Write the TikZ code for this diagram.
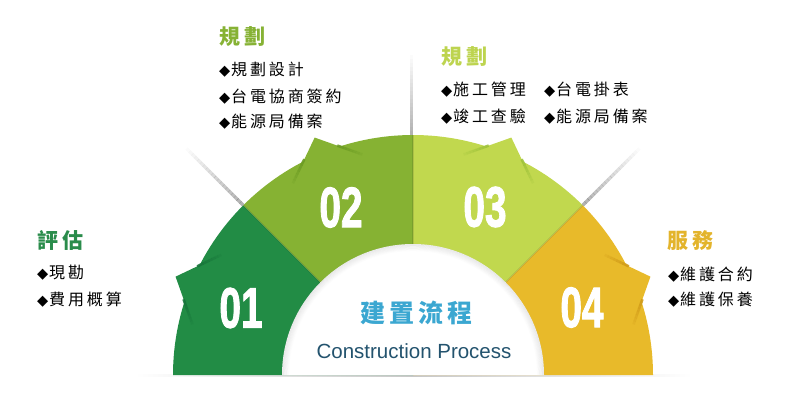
\documentclass[tikz,border=0pt]{standalone}
\usepackage{fontspec}
\setmainfont{Liberation Sans}
\newfontfamily\numf[BoldFeatures={FakeBold=2}]{Liberation Sans}
\newfontfamily\cjk[LetterSpace=18]{Noto Sans CJK TC}
\newfontfamily\cjkt[LetterSpace=20]{Noto Sans CJK TC}
\newfontfamily\cjkc[LetterSpace=16]{Noto Sans CJK TC}
\newfontfamily\sym{DejaVu Sans}
\usetikzlibrary{calc}
\definecolor{cA}{HTML}{228C45}
\definecolor{cB}{HTML}{86B233}
\definecolor{cC}{HTML}{C1D84E}
\definecolor{cD}{HTML}{E8BA2A}
\definecolor{sA}{HTML}{17743A}
\definecolor{sB}{HTML}{6A9A22}
\definecolor{sC}{HTML}{9EC23A}
\definecolor{sD}{HTML}{D09A18}
\definecolor{tA}{HTML}{2A8C4B}
\definecolor{tB}{HTML}{86B234}
\definecolor{tC}{HTML}{BDD44F}
\definecolor{tD}{HTML}{E3B42C}
\definecolor{cblue}{HTML}{3BA7D1}
\definecolor{cnavy}{HTML}{23536E}
\newcommand\dia{{\sym\fontsize{14.5}{14.5}\selectfont ◆}\hspace{0.8pt}}
\newcommand\numtxt[1]{\scalebox{0.68}[1]{#1}}
\tikzset{
  bul/.style={anchor=west, inner sep=0pt, text=black, font=\cjk\fontsize{16}{16}\selectfont},
  ttl/.style={anchor=west, inner sep=0pt, font=\cjkt\bfseries\fontsize{21}{21}\selectfont},
  num/.style={inner sep=0pt, text=white, font=\numf\bfseries\fontsize{57}{57}\selectfont},
}
\begin{document}
\begin{tikzpicture}[x=1pt,y=1pt]
\useasboundingbox (0,0) rectangle (800,400);
\fill[white] (0,0) rectangle (800,400);
\coordinate (O) at (413,25);
% baseline shadow
\shade[left color=white,right color=white,middle color=black!22] (135,23.6) rectangle (692,25.4);
% radial shadows outside
\foreach \a/\off in {135/0,90/1.5,45/0}{
  \begin{scope}[shift={(O)},rotate=\a]
    \foreach \k in {0,...,19}{
      \pgfmathsetmacro\op{0.3*(1-\k/20)}
      \fill[black,opacity=\op] (240+4*\k,\off-1.6) rectangle (244.2+4*\k,\off+1.6);
    }
  \end{scope}
}
% segments and flaps
\foreach \i/\c/\s in {0/cA/sA,1/cB/sB,2/cC/sC,3/cD/sD}{
  \pgfmathsetmacro\sa{180-45*\i}
  \pgfmathsetmacro\ea{135-45*\i}
  \pgfmathsetmacro\ma{157.5-45*\i}
  \fill[\c] (O) -- ++(\sa:240) arc[start angle=\sa, end angle=\ea, radius=240] -- cycle;
  \begin{scope}[shift={(O)},rotate=\ma]
    \fill[\c] (257,0) -- (236.9,22.3) -- (236.9,-22.3) -- cycle;
    \foreach \k in {0,...,7}{
      \pgfmathsetmacro\op{0.9*(1-\k/9)}
      \pgfmathsetmacro\ta{24+\k*3.3}
      \pgfmathsetmacro\tb{27.5+\k*3.3}
      \draw[\s, line width=2.6, opacity=\op] (257-0.669*\ta,0.743*\ta) -- (257-0.669*\tb,0.743*\tb);
      \draw[\s, line width=2.6, opacity=\op] (257-0.669*\ta,-0.743*\ta) -- (257-0.669*\tb,-0.743*\tb);
    }
  \end{scope}
}
% boundary shading
\foreach \a in {135,90,45}{
  \draw[black,opacity=0.1,line width=1.6] (O) ++(\a:131) -- ++(\a:109);
}
% inner white half disc
\fill[white] (O) ++(131,0) arc[start angle=0,end angle=180,radius=131] -- cycle;
\foreach \k in {0,...,7}{
  \pgfmathsetmacro\op{0.07*(1-\k/8)}
  \pgfmathsetmacro\rr{130.6-\k*0.9}
  \draw[black,opacity=\op,line width=1] (O) ++(\rr,0) arc[start angle=0,end angle=180,radius=\rr];
}
% numbers
\node[num] (n1) at (241,92) {\numtxt{01}};
\node[num] (n2) at (341,192.5) {\numtxt{02}};
\node[num] (n3) at (485,193) {\numtxt{03}};
\node[num] (n4) at (582,92.5) {\numtxt{04}};
% center text
\node[inner sep=0pt, text=cblue, font=\cjkc\bfseries\fontsize{25}{25}\selectfont] (ct) at (416,87) {建置流程};
\node[inner sep=0pt, text=cnavy, font=\fontsize{20.5}{20.5}\selectfont] (ce) at (414,49) {Construction Process};
% step 1
\node[ttl, text=tA] (t1) at (37,160) {評估};
\node[bul] (b11) at (37,127) {\dia 現勘};
\node[bul] (b12) at (37,100) {\dia 費用概算};
% step 2
\node[ttl, text=tB] (t2) at (219,363) {規劃};
\node[bul] (b21) at (219,330) {\dia 規劃設計};
\node[bul] (b22) at (219,303) {\dia 台電協商簽約};
\node[bul] (b23) at (219,278) {\dia 能源局備案};
% step 3
\node[ttl, text=tC] (t3) at (441,343) {規劃};
\node[bul] (b31) at (441,310) {\dia 施工管理};
\node[bul] (b32) at (544,310) {\dia 台電掛表};
\node[bul] (b33) at (441,283) {\dia 竣工查驗};
\node[bul] (b34) at (544,283) {\dia 能源局備案};
% step 4
\node[ttl, text=tD] (t4) at (667,159) {服務};
\node[bul] (b41) at (668,125) {\dia 維護合約};
\node[bul] (b42) at (668,100) {\dia 維護保養};
\end{tikzpicture}
\end{document}
